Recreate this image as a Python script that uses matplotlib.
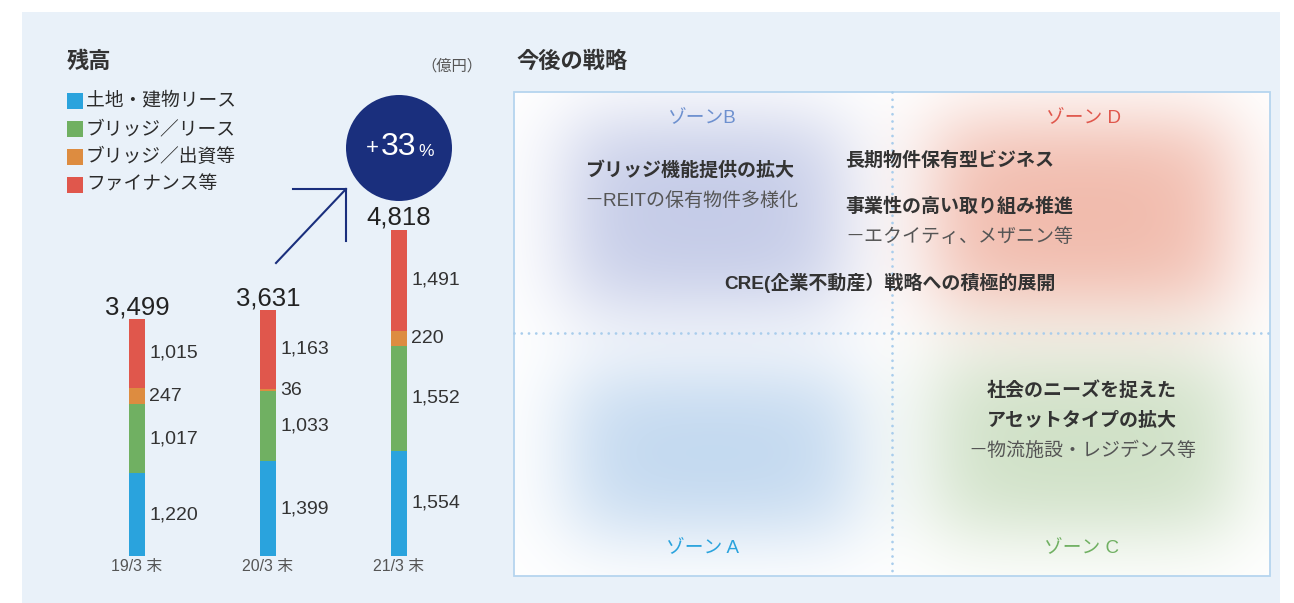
import numpy as np
import matplotlib
matplotlib.use("Agg")
import matplotlib.pyplot as plt
from matplotlib.patches import Rectangle, Circle
from matplotlib.colors import to_rgb

plt.rcParams['font.family'] = ['Liberation Sans', 'Noto Sans CJK JP']

# 残高 (億円)
years = ['19/3 末', '20/3 末', '21/3 末']
series = ['土地・建物リース', 'ブリッジ／リース', 'ブリッジ／出資等', 'ファイナンス等']
colors = ['#2aa3dd', '#70b062', '#dd8c40', '#e0574c']
land_lease = [1220, 1399, 1554]
bridge_lease = [1017, 1033, 1552]
bridge_invest = [247, 36, 220]
finance = [1015, 1163, 1491]
totals = [3499, 3631, 4818]
growth = '33'

W, H = 1294, 603
fig = plt.figure(figsize=(W / 100, H / 100), dpi=100)
fig.patch.set_facecolor('white')

# full-figure axes in pixel units for the layout pieces
bg = fig.add_axes([0, 0, 1, 1], zorder=0)
bg.set_xlim(0, W)
bg.set_ylim(H, 0)
bg.axis('off')
bg.add_patch(Rectangle((22, 12), 1258, 600, fc='#e9f1f9', ec='none'))

bg.text(67, 62, '残高', fontsize=16, weight='bold', color='#333333', va='center')
bg.text(452, 66, '（億円）', fontsize=11, color='#555555', va='center', ha='center')
for i, (name, c) in enumerate(zip(series, colors)):
    y = 101 + 28 * i
    bg.add_patch(Rectangle((67, y - 8), 16, 16, fc=c, ec='none'))
    bg.text(86, y, name, fontsize=13.5, color='#2b2b2b', va='center')

# growth badge + arrow
navy = '#1a2f7d'
bg.add_patch(Circle((399, 148), 53, fc=navy, ec='none'))
bg.text(372, 148, '+', fontsize=16, color='white', ha='center', va='center')
bg.text(399, 147, growth, fontsize=23, color='white', ha='center', va='center')
bg.text(426, 151, '%', fontsize=12.5, color='white', ha='center', va='center')
bg.plot([276, 346], [263, 189], color=navy, lw=1.5)
bg.plot([293, 346, 346], [189, 189, 241], color=navy, lw=1.5, solid_joinstyle='miter')

# strategy panel
bg.text(516, 62, '今後の戦略', fontsize=16, weight='bold', color='#333333', va='center')
bx0, by0, bx1, by1 = 514, 92, 1270, 576
bg.add_patch(Rectangle((bx0, by0), bx1 - bx0, by1 - by0, fc='white', ec='none'))

xs = np.arange(bx0, bx1) + 0.5
ys = np.arange(by0, by1) + 0.5
X, Y = np.meshgrid(xs, ys)

def soft_box(x0, x1, y0, y1, s):
    wx = 0.5 * (np.tanh((X - x0) / s) - np.tanh((X - x1) / s))
    wy = 0.5 * (np.tanh((Y - y0) / s) - np.tanh((Y - y1) / s))
    return wx * wy

img = np.ones((len(ys), len(xs), 3))
blobs = [
    ((568, 842, 122, 305), '#c3cae7'),
    ((935, 1230, 122, 305), '#f1b9aa'),
    ((570, 855, 375, 532), '#c0d7ef'),
    ((935, 1235, 360, 532), '#cee0c5'),
]
for (x0, x1, y0, y1), c in blobs:
    w = soft_box(x0, x1, y0, y1, 48)[..., None]
    img -= w * (1 - np.array(to_rgb(c)))
bg.imshow(np.clip(img, 0, 1), extent=(bx0, bx1, by1, by0), interpolation='bilinear', aspect='auto', zorder=1)
bg.set_xlim(0, W)
bg.set_ylim(H, 0)
bg.add_patch(Rectangle((bx0, by0), bx1 - bx0, by1 - by0, fc='none', ec='#b5d5ef', lw=1.3, zorder=3))
dot = dict(color='#a9cdec', lw=2.0, linestyle=(0, (0.01, 2.6)), dash_capstyle='round', zorder=3)
bg.plot([892, 892], [by0, by1], **dot)
bg.plot([bx0, bx1], [333, 333], **dot)

zone_fs = 13.5
bg.text(702, 118, 'ゾーンB', fontsize=zone_fs, color='#6d90cf', ha='center', va='center', zorder=4)
bg.text(1083, 118, 'ゾーン D', fontsize=zone_fs, color='#e0574c', ha='center', va='center', zorder=4)
bg.text(702, 548, 'ゾーン A', fontsize=zone_fs, color='#2aa3dd', ha='center', va='center', zorder=4)
bg.text(1082, 548, 'ゾーン C', fontsize=zone_fs, color='#70b062', ha='center', va='center', zorder=4)

bold = dict(fontsize=13.7, weight='bold', color='#333333', va='center', zorder=4)
light = dict(fontsize=13.7, color='#555555', va='center', zorder=4)
bg.text(690, 170, 'ブリッジ機能提供の拡大', ha='center', **bold)
bg.text(691, 201, '－REITの保有物件多様化', ha='center', **light)
bg.text(845, 161, '長期物件保有型ビジネス', ha='left', **bold)
bg.text(845, 207, '事業性の高い取り組み推進', ha='left', **bold)
bg.text(845, 237, '－エクイティ、メザニン等', ha='left', **light)
bg.text(890, 283, 'CRE(企業不動産）戦略への積極的展開', ha='center', **bold)
bg.text(1082, 391, '社会のニーズを捉えた', ha='center', **bold)
bg.text(1082, 421, 'アセットタイプの拡大', ha='center', **bold)
bg.text(1082, 451, '－物流施設・レジデンス等', ha='center', **light)

# stacked bars
def fig_rect(x0, y0, x1, y1):
    return [x0 / W, 1 - y1 / H, (x1 - x0) / W, (y1 - y0) / H]

ax = fig.add_axes(fig_rect(60, 40, 480, 556), zorder=2)
ax.set_facecolor('none')
px_per_unit = 237 / 3499
step = 131
ax.set_ylim(0, 516 / px_per_unit)
ax.set_xlim(-(137 - 60) / step, (480 - 137) / step)
bw = 16 / step

x = np.arange(len(years))
bottom = np.zeros(len(years))
for vals, c in zip([land_lease, bridge_lease, bridge_invest, finance], colors):
    vals = np.array(vals)
    ax.bar(x, vals, bw, bottom=bottom, color=c, linewidth=0)
    for xi, b, v in zip(x, bottom, vals):
        ax.annotate(f'{v:,}', (xi + bw / 2, b + v / 2), xytext=(3, 0), textcoords='offset points',
                    ha='left', va='center', fontsize=14, color='#333333')
    bottom += vals

for xi, t in zip(x, totals):
    ax.annotate(f'{t:,}', (xi, t), xytext=(0, 0), textcoords='offset points',
                ha='center', va='bottom', fontsize=18.5, color='#222222')

ax.set_xticks(x, years)
ax.tick_params(axis='x', length=0, pad=2, labelsize=11.4, labelcolor='#555555')
ax.set_yticks([])
for s in ax.spines.values():
    s.set_visible(False)

fig.savefig('out.png', dpi=100)
